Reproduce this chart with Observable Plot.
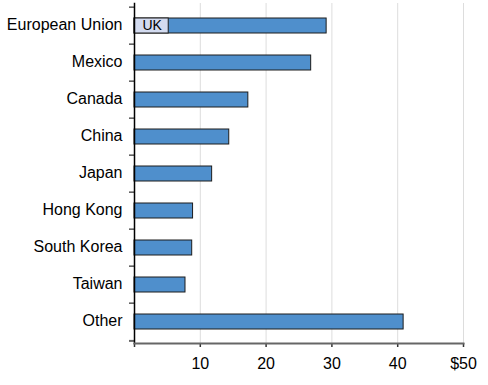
<!DOCTYPE html>
<html>
<head>
<meta charset="utf-8">
<script src="https://cdn.jsdelivr.net/npm/d3@7"></script>
<script src="https://cdn.jsdelivr.net/npm/@observablehq/plot@0.6"></script>
<style>
  html, body { margin: 0; padding: 0; background: #fff; }
  #chart svg { display: block; }
</style>
</head>
<body>
<div id="chart"></div>
<script>
const categories = ["European Union", "Mexico", "Canada", "China", "Japan", "Hong Kong", "South Korea", "Taiwan", "Other"];
const values = [29.2, 26.85, 17.3, 14.4, 11.8, 8.9, 8.77, 7.75, 40.9];
const ukLabel = "UK";
const ukValue = 5.2;
const xTicks = [0, 10, 20, 30, 40, 50];
const xTickLabels = ["", "10", "20", "30", "40", "$50"];

const data = categories.map((c, i) => ({category: c, value: values[i]}));
const font = "'Liberation Sans', Arial, Helvetica, sans-serif";
const W = 488, H = 385;
const mTop = 3, mBottom = 42, mLeft = 134, mRight = 25;
const step = (H - mTop - mBottom) / categories.length;

const chart = Plot.plot({
  width: W,
  height: H,
  marginTop: mTop,
  marginBottom: mBottom,
  marginLeft: mLeft,
  marginRight: mRight,
  style: {fontFamily: font, fontSize: "16px", color: "#000", background: "#fff"},
  x: {domain: [0, 50], label: null},
  y: {domain: categories, paddingInner: 0.6, paddingOuter: 0.3, label: null},
  marks: [
    Plot.gridX(xTicks.slice(1), {stroke: "#dddddd", strokeOpacity: 1, strokeWidth: 1}),
    Plot.barX(data, {y: "category", x1: 0, x2: "value", fill: "#4f8fcc", stroke: "#1c1c1c", strokeWidth: 1}),
    Plot.barX([{category: categories[0], value: ukValue}], {y: "category", x1: 0, x2: "value", fill: "#d3dbf0", stroke: "#1c1c1c", strokeWidth: 1}),
    Plot.text([{category: categories[0], label: ukLabel}], {y: "category", x: 0, text: "label", dx: 8, textAnchor: "start", fontSize: 14, fill: "#000"}),
    Plot.axisY({tickSize: 0, tickPadding: 12, fontSize: 16, fill: "#000", label: null, dy: -1.5}),
    Plot.axisY({tickSize: 5, tickFormat: () => "", dy: -step / 2, stroke: "#000", label: null}),
    Plot.axisY({ticks: [categories[categories.length - 1]], tickSize: 5, tickFormat: () => "", dy: step / 2, stroke: "#666", strokeWidth: 2, label: null}),
    Plot.frame({anchor: "left", stroke: "#000", strokeWidth: 1.5}),
    Plot.axisX({ticks: xTicks, tickFormat: (d) => xTickLabels[xTicks.indexOf(d)], tickSize: 4, tickPadding: 10, stroke: "#333", strokeWidth: 1.5, fill: "#000", fontSize: 16, label: null}),
    Plot.frame({anchor: "bottom", stroke: "#666", strokeWidth: 2})
  ]
});
document.getElementById("chart").appendChild(chart);
</script>
</body>
</html>
